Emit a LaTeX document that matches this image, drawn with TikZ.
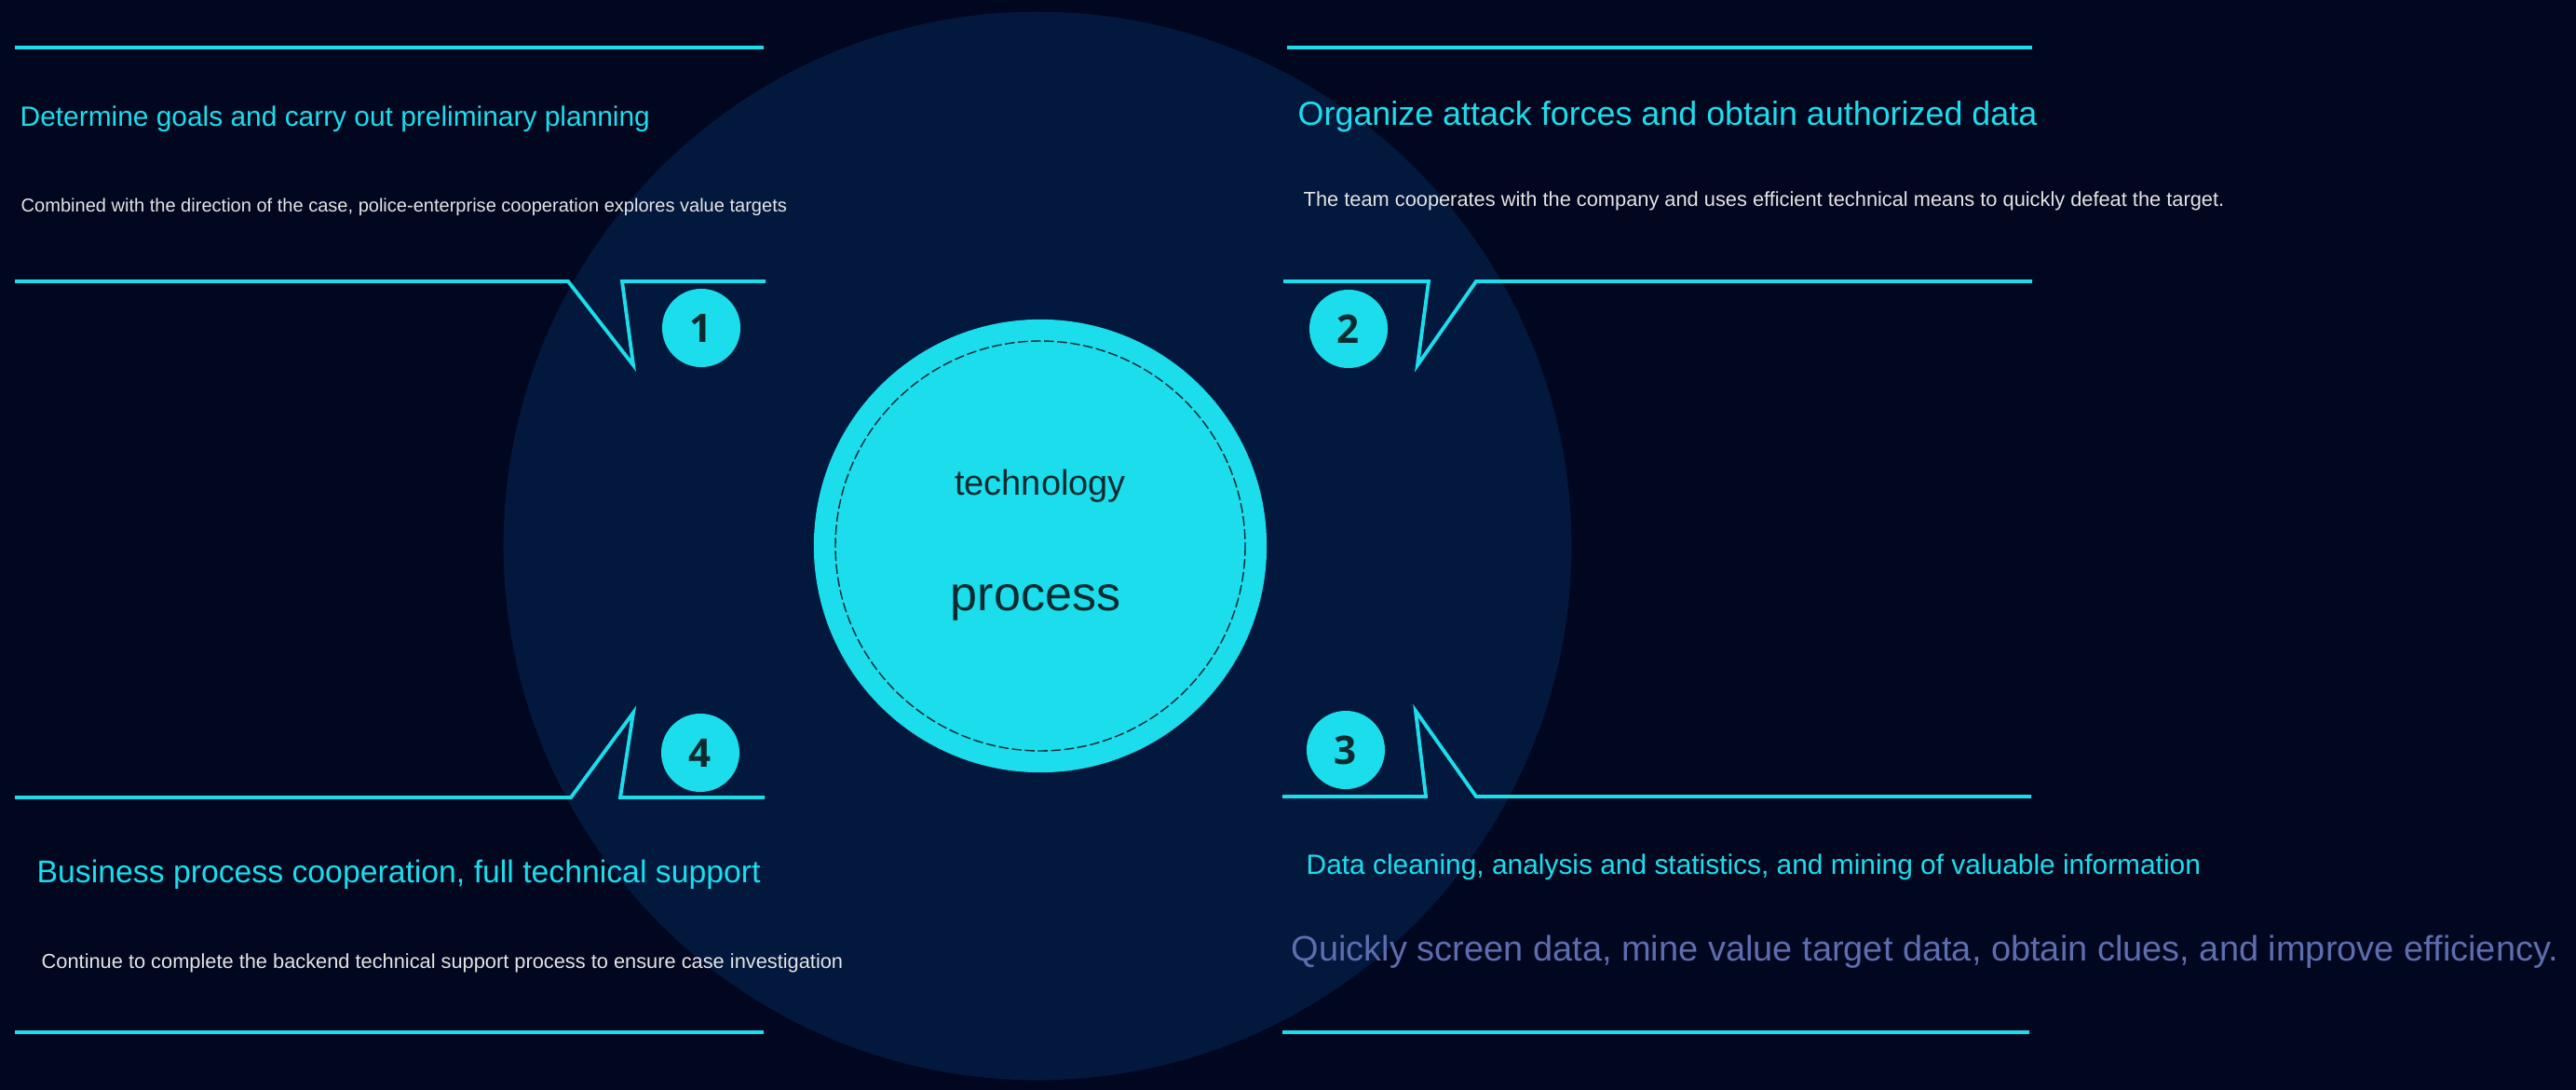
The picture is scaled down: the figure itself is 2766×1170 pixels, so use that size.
\documentclass[tikz,border=0pt]{standalone}
\usepackage{fontspec}
\setmainfont{Liberation Sans}
\newfontfamily\numfont{Open Sans}
\definecolor{techbg}{HTML}{020720}
\definecolor{techdisc}{HTML}{03183D}
\definecolor{techcyan}{HTML}{1BDDEC}
\definecolor{techgrey}{HTML}{E4E4E4}
\definecolor{techslate}{HTML}{5D6DAE}
\definecolor{techink}{HTML}{0B2B30}
\tikzset{
  bar/.style={draw=techcyan, line width=1.4pt},
  tabbar/.style={draw=techcyan, line width=1.1pt, line join=miter},
  badge/.style={circle, fill=techcyan, minimum size=0.84cm, inner sep=0pt, text=techink, font=\numfont\bfseries\fontsize{12pt}{12pt}\selectfont},
  head/.style={anchor=west, inner sep=0pt, text=techcyan},
  note/.style={anchor=west, inner sep=0pt, text=techgrey, font=\fontsize{6.2pt}{7pt}\selectfont},
}

\begin{document}
\begin{tikzpicture}[x=0.01cm, y=-0.01cm]
  % canvas
  \fill[techbg] (0,0) rectangle (2766,1170);
  \useasboundingbox (0,0) rectangle (2766,1170);
  \node[circle, fill=techdisc, minimum size=11.46cm, inner sep=0pt] (disc) at (1114,586) {};
  % rules and tabs
  \draw[bar] (16,51) -- (820,51);
  \draw[tabbar] (16,302) -- (610,302) -- (680,392) -- (668,302) -- (822,302);
  \draw[bar] (1382,51) -- (2182,51);
  \draw[tabbar] (1378,302) -- (1534,302) -- (1522,392) -- (1585,302) -- (2182,302);
  \draw[tabbar] (1377,855) -- (1531,855) -- (1520,763) -- (1585,855) -- (2181,855);
  \draw[bar] (1377,1108) -- (2179,1108);
  \draw[tabbar] (16,856) -- (613,856) -- (680,765) -- (666,856) -- (821,856);
  \draw[bar] (16,1108) -- (820,1108);
  % badges
  \node[badge] (b1) at (753,352) {1};
  \node[badge] (b2) at (1448,353) {2};
  \node[badge] (b3) at (1445,805) {3};
  \node[badge] (b4) at (752,808) {4};
  % core
  \node[circle, fill=techcyan, minimum size=4.86cm, inner sep=0pt] (core) at (1117,586) {};
  \draw[techink, line width=0.4pt, dash pattern=on 3pt off 1pt] (core.center) circle (220);
  \node[inner sep=0pt, text=techink, font=\fontsize{10.8pt}{12pt}\selectfont] (tech) at (1117,522) {technology};
  \node[inner sep=0pt, text=techink, font=\fontsize{14.8pt}{16pt}\selectfont] (proc) at (1112,647) {process};
  % step texts
  \node[head, font=\fontsize{8.5pt}{10pt}\selectfont] (h1) at (21,128) {Determine goals and carry out preliminary planning};
  \node[note, font=\fontsize{5.7pt}{7pt}\selectfont] (n1) at (22,222) {Combined with the direction of the case, police-enterprise cooperation explores value targets};
  \node[head, font=\fontsize{10.2pt}{12pt}\selectfont] (h2) at (1393,125) {Organize attack forces and obtain authorized data};
  \node[note] (n2) at (1399,216) {The team cooperates with the company and uses efficient technical means to quickly defeat the target.};
  \node[head, font=\fontsize{8.5pt}{10pt}\selectfont] (h3) at (1402,931) {Data cleaning, analysis and statistics, and mining of valuable information};
  \node[note, text=techslate, font=\fontsize{10.8pt}{12pt}\selectfont] (n3) at (1386,1022) {Quickly screen data, mine value target data, obtain clues, and improve efficiency.};
  \node[head, font=\fontsize{9.6pt}{11pt}\selectfont] (h4) at (39,939) {Business process cooperation, full technical support};
  \node[note] (n4) at (44,1034) {Continue to complete the backend technical support process to ensure case investigation};
\end{tikzpicture}
\end{document}
